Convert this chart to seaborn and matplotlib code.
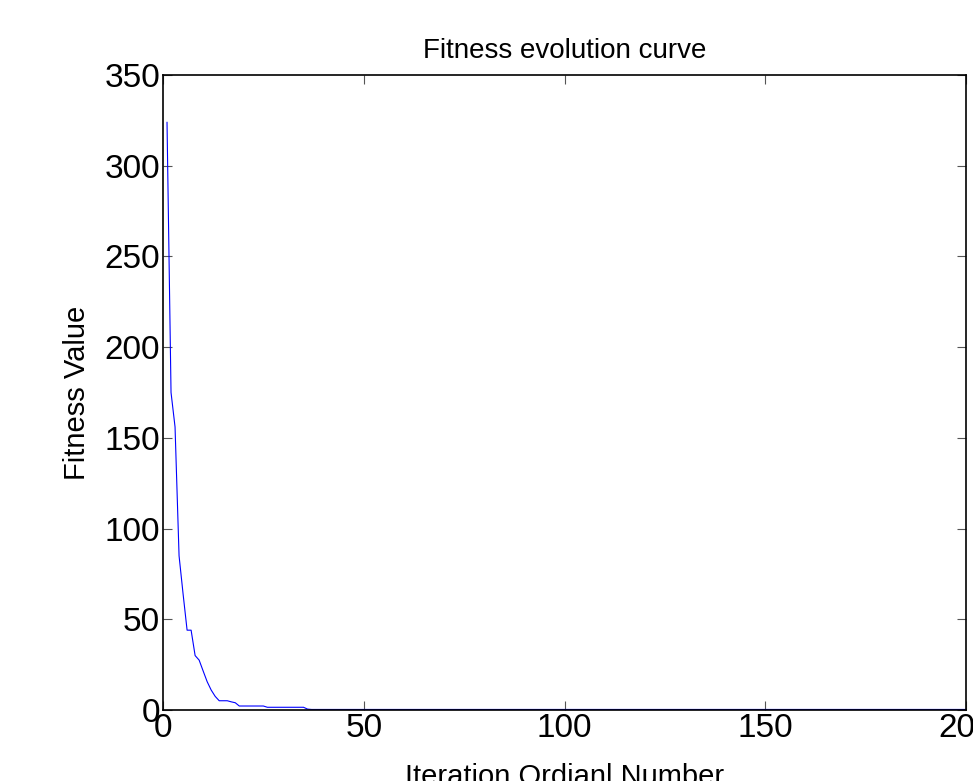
import matplotlib
matplotlib.use("Agg")
import matplotlib.pyplot as plt
import seaborn as sns
import pandas as pd

# Data
iterations = list(range(1, 38)) + [200]
fitness = [324, 175, 156, 85, 64, 44, 44, 30, 27.5, 21.5,
           15.6, 11, 7.5, 5.1, 5.1, 5.1, 4.5, 4.0, 2.2, 2.2,
           2.2, 2.2, 2.2, 2.2, 2.2, 1.5, 1.5, 1.5, 1.5, 1.5,
           1.5, 1.5, 1.5, 1.5, 1.5, 0.5, 0.3, 0.3]
x_ticks = [0, 50, 100, 150, 200]
y_ticks = [0, 50, 100, 150, 200, 250, 300, 350]
title = "Fitness evolution curve"
x_label = "Iteration Ordianl Number"
y_label = "Fitness Value"

sns.set_style("white")
plt.rcParams['font.family'] = ['Liberation Sans', 'DejaVu Sans']
plt.rcParams['text.color'] = 'black'
plt.rcParams['axes.labelcolor'] = 'black'
plt.rcParams['xtick.color'] = 'black'
plt.rcParams['ytick.color'] = 'black'

df = pd.DataFrame({"iter": iterations, "fit": fitness})

fig = plt.figure(figsize=(9.73, 7.81), dpi=100)
ax = fig.add_axes([163/973, 1 - 710/781, (966 - 163)/973, (710 - 75)/781])

sns.lineplot(data=df, x="iter", y="fit", ax=ax, color="#0000ff", linewidth=0.8)

ax.set_xlim(0, 200)
ax.set_ylim(0, 350)
ax.set_xticks(x_ticks)
ax.set_yticks(y_ticks)
ax.tick_params(direction="in", length=6.5, width=0.8, color="#555555",
               labelcolor="black",
               top=True, right=True, labelsize=24, pad=2,
               bottom=True, left=True)
for s in ax.spines.values():
    s.set_visible(True)
    s.set_color("black")
    s.set_linewidth(1.2)

ax.set_title(title, fontsize=20, pad=12, color="black")
ax.set_xlabel(x_label, fontsize=21, labelpad=14, color="black")
ax.set_ylabel(y_label, fontsize=21, labelpad=10, color="black")

fig.savefig("out.png", dpi=100)
